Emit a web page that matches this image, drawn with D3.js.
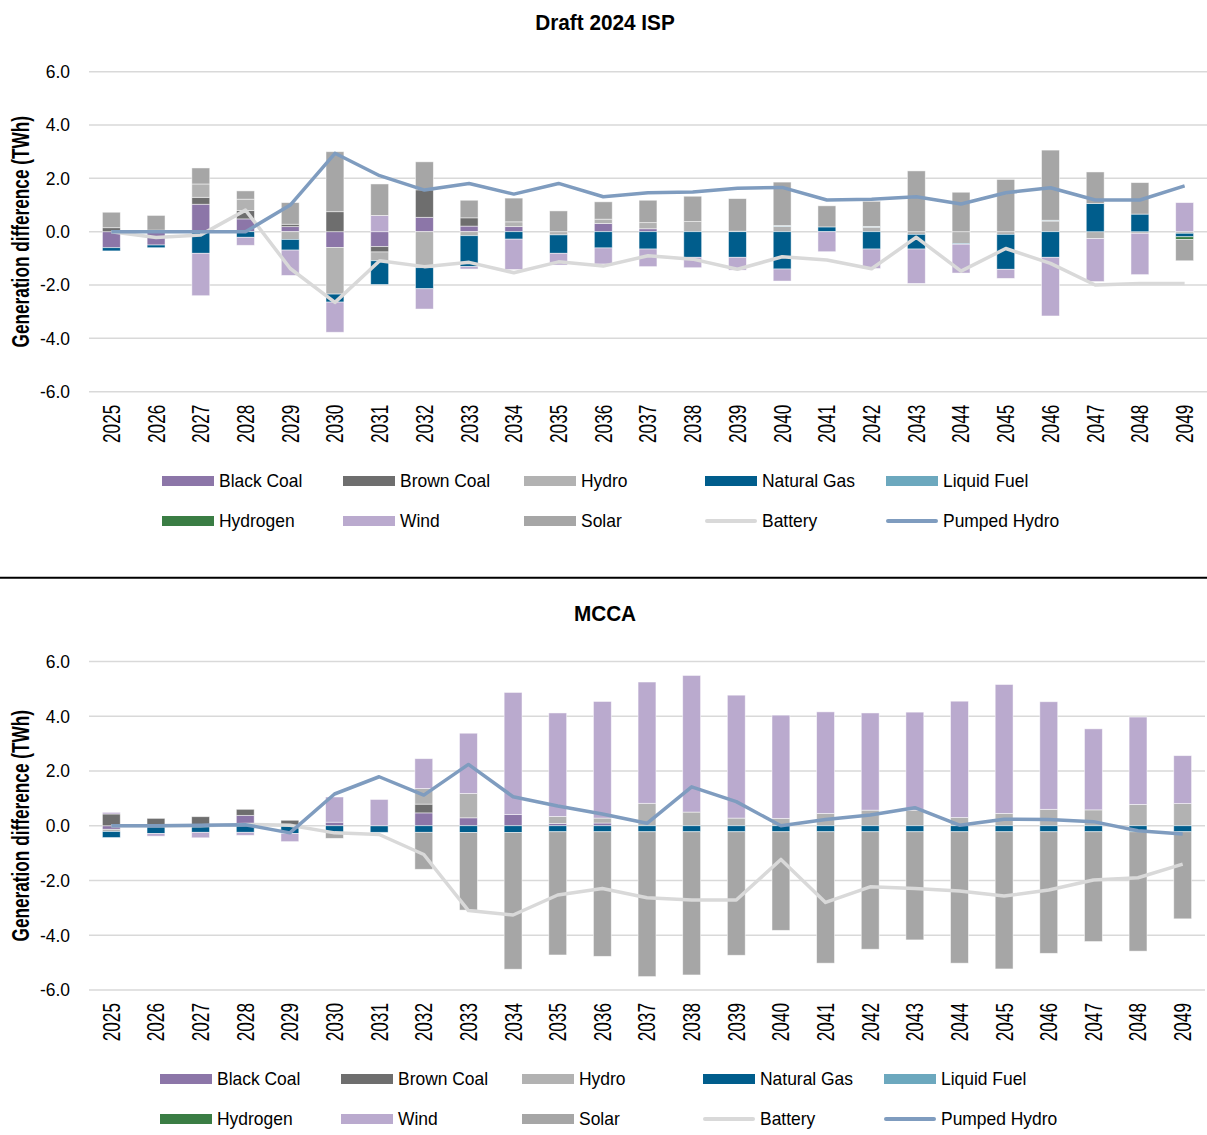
<!DOCTYPE html>
<html>
<head>
<meta charset="utf-8">
<script src="https://cdn.jsdelivr.net/npm/d3@7"></script>
<style>
body { margin: 0; background: #fff; }
svg { display: block; font-family: "Liberation Sans", Arial, sans-serif; }
</style>
</head>
<body>
<div class="canvas"></div>
<script>
// categories and tick labels
const years = ['2025','2026','2027','2028','2029','2030','2031','2032','2033','2034','2035','2036',
  '2037','2038','2039','2040','2041','2042','2043','2044','2045','2046','2047','2048','2049'];
const yTicks = [-6, -4, -2, 0, 2, 4, 6];
const fuels = ['Black Coal','Brown Coal','Hydro','Natural Gas','Liquid Fuel','Hydrogen','Wind','Solar'];
const lineNames = ['Battery','Pumped Hydro'];

// Draft 2024 ISP (TWh)
const ispBlackCoal = [-0.6,-0.5,1.03,0.48,0.19,-0.59,-0.56,0.54,0.21,0.19,0,0.31,0.11,0,0,0,0,0,0,0,0,0,0,0,0];
const ispBrownCoal = [0.15,0.06,0.26,0.31,0.09,0.75,-0.2,1.03,0.31,0,0,0,0,0,0,0,0,0,0,0,0,0,0,0,0];
const ispHydro     = [0,0,0.5,0.43,-0.29,-1.75,-0.33,-1.35,-0.15,0.18,-0.12,0.16,0.23,0.38,0.02,0.2,0,0.17,-0.1,-0.44,-0.1,0.4,-0.26,-0.06,-0.06];
const ispGas       = [-0.12,-0.1,-0.81,-0.21,-0.4,-0.3,-0.89,-0.79,-1.16,-0.28,-0.69,-0.61,-0.65,-0.96,-0.96,-1.4,0.18,-0.65,-0.55,-0.03,-1.31,-0.96,1.06,0.66,-0.13];
const ispLiquid    = [0,0,0,0,0,0,0,0,0,0,0,0,0,0,0,0.03,0,0.03,0,0,0,0.03,0,0,0];
const ispHydrogen  = [0,0,0,0,0,0,0,0,0,0,0,0,0,0,0,0,0,0,0,0,0,0,0,0,-0.1];
const ispWind      = [0,0,-1.59,-0.3,-0.95,-1.13,0.61,-0.76,-0.09,-1.14,-0.44,-0.6,-0.66,-0.39,-0.48,-0.45,-0.75,-0.73,-1.29,-1.08,-0.34,-2.2,-1.61,-1.55,1.09];
const ispSolar     = [0.58,0.55,0.6,0.31,0.81,2.25,1.18,1.05,0.66,0.89,0.78,0.65,0.84,0.95,1.22,1.63,0.79,0.94,2.28,1.48,1.96,2.63,1.18,1.18,-0.8];
const ispBattery   = [0,-0.22,-0.12,0.81,-1.38,-2.65,-1.09,-1.31,-1.15,-1.54,-1.13,-1.29,-0.9,-1.03,-1.41,-0.94,-1.06,-1.39,-0.21,-1.48,-0.63,-1.19,-2.0,-1.94,-1.94];
const ispPumped    = [0,0,0,0,1.0,2.94,2.1,1.56,1.81,1.41,1.81,1.31,1.46,1.49,1.63,1.66,1.19,1.22,1.31,1.04,1.46,1.65,1.19,1.19,1.72];

// MCCA (TWh)
const mccaBlackCoal = [-0.13,0,0,0.38,0,0.13,0,0.47,0.29,0.41,0.08,0.1,0,0,0,0,0,0,0,0,0,0,0,0,0];
const mccaBrownCoal = [0.43,0.27,0.33,0.22,0.2,0,0,0.32,0,0,0,0,0,0,0,0,0,0,0,0,0,0,0,0,0];
const mccaHydro     = [-0.08,0,0,0,0,0,0,0.57,0.89,0,0.26,0.18,0.82,0.5,0.28,0.27,0.45,0.57,0.57,0.3,0.45,0.6,0.58,0.78,0.81];
const mccaGas       = [-0.22,-0.28,-0.24,-0.24,-0.28,-0.24,-0.24,-0.24,-0.25,-0.25,-0.22,-0.22,-0.22,-0.22,-0.22,-0.22,-0.22,-0.22,-0.22,-0.22,-0.22,-0.22,-0.22,-0.22,-0.22];
const mccaLiquid    = [0,0,0,0,0,0,0,0,0,0,0,0,0,0,0,0,0,0,0,0,0,0,0,0,0];
const mccaHydrogen  = [0,0,0,0,0,0,0,0,0,0,0,0,0,0,0,0,0,0,0,0,0,0,0,0,0];
const mccaWind      = [0.06,-0.1,-0.2,-0.11,-0.3,0.92,0.96,1.09,2.2,4.46,3.78,4.26,4.43,4.99,4.49,3.77,3.71,3.55,3.58,4.25,4.71,3.93,2.96,3.19,1.75];
const mccaSolar     = [0,0,0,0,0,-0.22,0,-1.35,-2.83,-4.99,-4.5,-4.55,-5.29,-5.23,-4.51,-3.6,-4.8,-4.29,-3.95,-4.8,-5.01,-4.44,-4.01,-4.36,-3.18];
const mccaBattery   = [0,0,0,0.05,0.02,-0.26,-0.32,-1.05,-3.1,-3.26,-2.53,-2.29,-2.63,-2.71,-2.71,-1.23,-2.8,-2.23,-2.29,-2.38,-2.57,-2.35,-1.98,-1.9,-1.4];
const mccaPumped    = [0,0,0.02,0.04,-0.26,1.16,1.79,1.12,2.24,1.06,0.72,0.43,0.09,1.42,0.88,0.0,0.23,0.39,0.66,0.02,0.24,0.23,0.15,-0.18,-0.3];

// colours
const fuelColours = ['#8c76a8','#6e6e6e','#b2b2b2','#005d8c','#6ca8be','#3a7d44','#baaace','#a6a6a6'];
const lineColours = ['#d9d9d9','#7f9cbf'];

const svgWidth = 1207;
const svgHeight = 1135;

// text in the picture is a narrow font, a bit stretched sideways
const sx = 0.943;

const svg = d3.select('.canvas')
  .append('svg')
  .attr('width', svgWidth)
  .attr('height', svgHeight);

const drawChart = (cfg) => {
  const g = svg.append('g');

  const x = d3.scaleBand().domain(years).range([cfg.left, cfg.right]);
  const y = d3.scaleLinear().domain([-6, 6]).range([cfg.bottom, cfg.top]);

  // title
  g.append('text')
    .attr('transform', `translate(605, ${cfg.titleY}) scale(${sx},1)`)
    .attr('text-anchor', 'middle')
    .attr('font-weight', 'bold')
    .attr('font-size', '22px')
    .attr('fill', '#000')
    .text(cfg.title);

  // gridlines
  g.append('g').selectAll('line')
    .data(yTicks)
    .join('line')
    .attr('x1', cfg.left).attr('x2', cfg.right)
    .attr('y1', d => y(d)).attr('y2', d => y(d))
    .attr('stroke', '#d9d9d9')
    .attr('stroke-width', 1.5);

  // stacked bars, positives and negatives stacked apart
  const rows = years.map((yr, i) => {
    const r = { year: yr };
    fuels.forEach((f, j) => r[f] = cfg.series[j][i]);
    return r;
  });
  const stacked = d3.stack().keys(fuels).offset(d3.stackOffsetDiverging)(rows);
  const bw = x.bandwidth() * 0.4;

  g.append('g').selectAll('g')
    .data(stacked)
    .join('g')
    .attr('fill', (d, i) => fuelColours[i])
    .selectAll('rect')
    .data(d => d.filter(s => s[1] !== s[0]))
    .join('rect')
    .attr('x', d => x(d.data.year) + (x.bandwidth() - bw) / 2)
    .attr('y', d => y(Math.max(d[0], d[1])))
    .attr('width', bw)
    .attr('height', d => Math.abs(y(d[0]) - y(d[1])))
    .attr('stroke', '#fff')
    .attr('stroke-opacity', 0.6)
    .attr('stroke-width', 0.8);

  // lines
  const line = d3.line()
    .x((d, i) => x(years[i]) + x.bandwidth() / 2)
    .y(d => y(d));

  [cfg.battery, cfg.pumped].forEach((vals, i) => {
    g.append('path')
      .datum(vals)
      .attr('d', line)
      .attr('fill', 'none')
      .attr('stroke', lineColours[i])
      .attr('stroke-width', 3.5)
      .attr('stroke-linejoin', 'round');
  });

  // y axis
  const yAxisGroup = g.append('g')
    .attr('transform', `translate(${cfg.left}, 0)`)
    .call(d3.axisLeft(y).tickValues(yTicks).tickSize(0).tickPadding(19).tickFormat(d => d.toFixed(1)));
  yAxisGroup.select('.domain').remove();
  yAxisGroup.selectAll('text')
    .attr('font-size', '18.5px')
    .attr('font-family', '"Liberation Sans", Arial, sans-serif')
    .attr('fill', '#000')
    .attr('transform', `translate(-19,0) scale(${sx},1)`)
    .attr('x', 0);

  // x axis, rotated labels
  const xAxisGroup = g.append('g')
    .attr('transform', `translate(0, ${cfg.bottom})`)
    .call(d3.axisBottom(x).tickSize(0));
  xAxisGroup.select('.domain').remove();
  xAxisGroup.selectAll('text')
    .attr('font-size', '21px')
    .attr('font-family', '"Liberation Sans", Arial, sans-serif')
    .attr('fill', '#000')
    .attr('transform', `translate(0, ${cfg.labelTop}) scale(1.15, 0.82) rotate(-90)`)
    .attr('x', 0)
    .attr('y', 0)
    .attr('dy', '0.35em')
    .attr('text-anchor', 'end');

  // y axis title
  g.append('text')
    .attr('transform', `translate(21, ${y(0)}) scale(1.15, 0.82) rotate(-90)`)
    .attr('text-anchor', 'middle')
    .attr('dy', '0.35em')
    .attr('font-weight', 'bold')
    .attr('font-size', '21px')
    .attr('fill', '#000')
    .text('Generation difference (TWh)');

  // legend
  const names = fuels.concat(lineNames);
  const colours = fuelColours.concat(lineColours);
  const legend = g.append('g');
  names.forEach((n, i) => {
    const col = i % 5;
    const row = Math.floor(i / 5);
    const lx = cfg.legendX + col * 181;
    const ly = cfg.legendY + row * 40;
    const isLine = i >= fuels.length;
    legend.append('rect')
      .attr('x', lx)
      .attr('y', isLine ? ly - 2 : ly - 5)
      .attr('width', 52)
      .attr('height', isLine ? 4 : 10)
      .attr('rx', isLine ? 2 : 0)
      .attr('fill', colours[i]);
    legend.append('text')
      .attr('transform', `translate(${lx + 57}, ${ly}) scale(${sx},1)`)
      .attr('dy', '0.35em')
      .attr('font-size', '18.5px')
      .attr('fill', '#000')
      .text(n);
  });
};

drawChart({
  title: 'Draft 2024 ISP', titleY: 30,
  left: 89, right: 1207, top: 71.7, bottom: 391.7, labelTop: 13,
  legendX: 162, legendY: 481,
  series: [ispBlackCoal, ispBrownCoal, ispHydro, ispGas, ispLiquid, ispHydrogen, ispWind, ispSolar],
  battery: ispBattery, pumped: ispPumped
});

// separator
svg.append('line')
  .attr('x1', 0).attr('x2', svgWidth)
  .attr('y1', 577.7).attr('y2', 577.7)
  .attr('stroke', '#000')
  .attr('stroke-width', 2);

drawChart({
  title: 'MCCA', titleY: 621,
  left: 89, right: 1205, top: 661.5, bottom: 990, labelTop: 13,
  legendX: 160, legendY: 1079,
  series: [mccaBlackCoal, mccaBrownCoal, mccaHydro, mccaGas, mccaLiquid, mccaHydrogen, mccaWind, mccaSolar],
  battery: mccaBattery, pumped: mccaPumped
});
</script>
</body>
</html>
